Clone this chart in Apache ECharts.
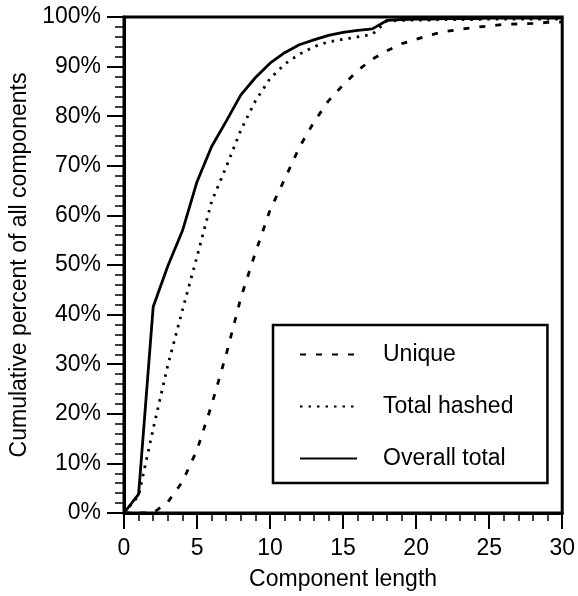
<!DOCTYPE html>
<html>
<head>
<meta charset="utf-8">
<script src="https://cdn.jsdelivr.net/npm/echarts@6/dist/echarts.min.js"></script>
<style>
  html, body { margin: 0; padding: 0; background: #fff; }
  #main { width: 578px; height: 596px; }
</style>
</head>
<body>
<div id="main"></div>
<script>
// component length 0..30
const lengths = [0, 1, 2, 3, 4, 5, 6, 7, 8, 9, 10, 11, 12, 13, 14, 15, 16, 17, 18, 19, 20, 21, 22, 23, 24, 25, 26, 27, 28, 29, 30];
const unique = [0, 0, 0, 2.2, 6.3, 12.7, 21.8, 32, 43.4, 52.5, 61.1, 67.3, 73.7, 78.8, 83.1, 86.3, 89.2, 91.5, 93.2, 94.6, 95.5, 96.4, 97.1, 97.5, 97.9, 98.2, 98.5, 98.6, 98.7, 98.9, 99.0];
const totalHashed = [0, 3.5, 17, 29.8, 40.9, 51.7, 62.8, 69.8, 77.2, 83.1, 87.6, 90.5, 92.5, 94, 95, 95.5, 96, 96.5, 99.2, 99.3, 99.4, 99.4, 99.5, 99.5, 99.5, 99.6, 99.6, 99.6, 99.6, 99.6, 99.6];
const overallTotal = [0, 3.8, 41.6, 49.8, 56.9, 66.8, 73.9, 79, 84.3, 87.8, 90.7, 92.8, 94.4, 95.4, 96.3, 96.9, 97.3, 97.6, 99.3, 99.5, 99.6, 99.6, 99.7, 99.7, 99.7, 99.8, 99.8, 99.8, 99.8, 99.8, 99.8];

const font = 'Liberation Sans, Arial, sans-serif';
const pair = (ys) => lengths.map((x, i) => [x, ys[i]]);

const chart = echarts.init(document.getElementById('main'));
chart.setOption({
  animation: false,
  textStyle: { fontFamily: font, color: '#000' },
  grid: {
    left: 124, right: 15, top: 17, bottom: 83,
    show: true, borderColor: '#000', borderWidth: 3, backgroundColor: 'transparent'
  },
  legend: {
    orient: 'vertical',
    left: 273, top: 325,
    padding: [18, 34, 13, 26],
    itemGap: 29,
    itemWidth: 57,
    itemHeight: 24,
    borderColor: '#000',
    borderWidth: 2.5,
    itemStyle: { opacity: 0 },
    textStyle: { fontFamily: font, fontSize: 23, color: '#000', padding: [0, 0, 0, 21] },
    data: ['Unique', 'Total hashed', 'Overall total']
  },
  xAxis: {
    type: 'value', min: 0, max: 30, interval: 5,
    name: 'Component length', nameLocation: 'middle', nameGap: 55,
    nameTextStyle: { fontFamily: font, fontSize: 23, color: '#000' },
    axisLine: { lineStyle: { color: '#000', width: 3 } },
    axisTick: { length: 16, lineStyle: { color: '#000', width: 2 } },
    minorTick: { show: true, splitNumber: 5, length: 8, lineStyle: { color: '#000', width: 1.5 } },
    axisLabel: { fontFamily: font, fontSize: 23, color: '#000', margin: 24 },
    splitLine: { show: false }
  },
  yAxis: {
    type: 'value', min: 0, max: 100, interval: 10,
    name: 'Cumulative percent of all components', nameLocation: 'middle', nameGap: 85,
    nameTextStyle: { fontFamily: font, fontSize: 23, color: '#000' },
    axisLine: { lineStyle: { color: '#000', width: 3 } },
    axisTick: { length: 17, lineStyle: { color: '#000', width: 2 } },
    minorTick: { show: true, splitNumber: 5, length: 9, lineStyle: { color: '#000', width: 1.5 } },
    axisLabel: { fontFamily: font, fontSize: 23, color: '#000', margin: 23, formatter: '{value}%' },
    splitLine: { show: false }
  },
  series: [
    {
      name: 'Unique', type: 'line', data: pair(unique), symbol: 'none',
      lineStyle: { color: '#000', width: 2.8, type: [6, 10] },
      itemStyle: { color: '#000' }
    },
    {
      name: 'Total hashed', type: 'line', data: pair(totalHashed), symbol: 'none',
      lineStyle: { color: '#000', width: 2.8, type: [2.5, 6] },
      itemStyle: { color: '#000' }
    },
    {
      name: 'Overall total', type: 'line', data: pair(overallTotal), symbol: 'none',
      lineStyle: { color: '#000', width: 2.8 },
      itemStyle: { color: '#000' }
    }
  ]
});
</script>
</body>
</html>
